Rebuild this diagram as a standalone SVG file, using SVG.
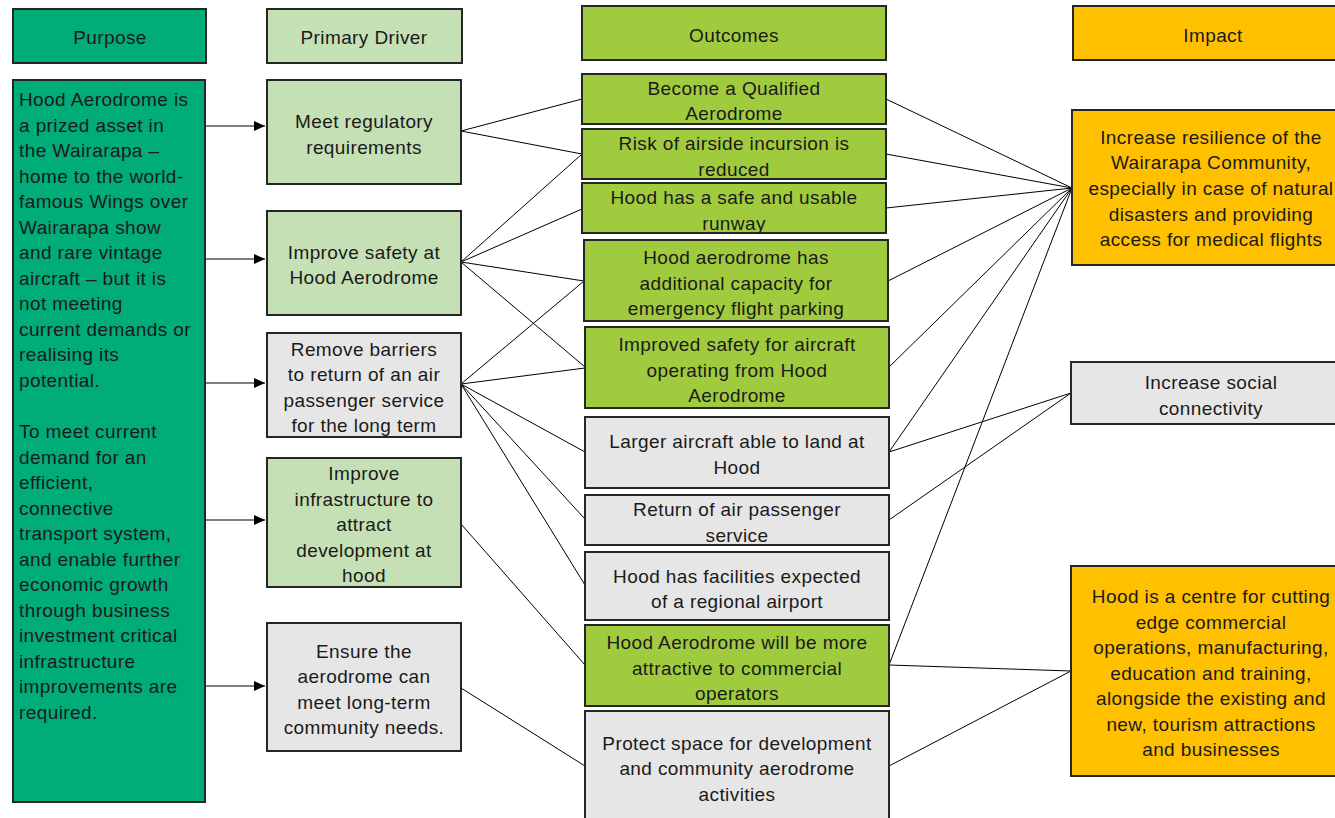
<svg xmlns="http://www.w3.org/2000/svg" width="1335" height="818" viewBox="0 0 1335 818">
<defs>
<marker id="arr" markerWidth="11" markerHeight="10" refX="11" refY="5" orient="auto" markerUnits="userSpaceOnUse">
<path d="M0,0 L11,5 L0,10 Z" fill="#000"/>
</marker>
<style>
.box{stroke:#262626;stroke-width:2}
.pu{fill:#00AC77}
.pd{fill:#C5E0B4}
.oc{fill:#A1CB3F}
.gr{fill:#E7E6E6}
.im{fill:#FFC000}
text{font-family:"Liberation Sans",Arial,sans-serif;font-size:19px;letter-spacing:0.4px;fill:#1a1a1a}
.c{text-anchor:middle}
.ln{stroke:#000;stroke-width:1;fill:none}
</style>
</defs>
<rect width="1335" height="818" fill="#fff"/>

<g id="connectors">
<line class="ln" x1="205" y1="126" x2="265" y2="126" marker-end="url(#arr)"/>
<line class="ln" x1="205" y1="259" x2="265" y2="259" marker-end="url(#arr)"/>
<line class="ln" x1="205" y1="383" x2="265" y2="383" marker-end="url(#arr)"/>
<line class="ln" x1="205" y1="520" x2="265" y2="520" marker-end="url(#arr)"/>
<line class="ln" x1="205" y1="686" x2="265" y2="686" marker-end="url(#arr)"/>
<path class="ln" d="M461,131 L582,99 M461,131 L582,154"/>
<path class="ln" d="M461,262 L582,154 M461,262 L582,209 M461,262 L584,281 M461,262 L585,367"/>
<path class="ln" d="M461,384 L584,281 M461,384 L585,368 M461,384 L585,452 M461,384 L585,519 M461,384 L585,585"/>
<path class="ln" d="M461,524 L585,665"/>
<path class="ln" d="M461,688 L585,766"/>
<path class="ln" d="M886,99 L1072,188 M886,154 L1072,188 M886,208 L1072,188 M888,281 L1072,188 M889,367 L1072,188 M889,452 L1072,188 M889,665 L1072,188"/>
<path class="ln" d="M889,452 L1071,393 M889,520 L1071,393"/>
<path class="ln" d="M889,665 L1071,671 M889,766 L1071,671"/>
</g>

<g id="h-purpose"><rect class="box pu" x="13" y="9" width="193" height="54"/><text class="c" x="110" y="44">Purpose</text></g>
<g id="h-driver"><rect class="box pd" x="267" y="9" width="195" height="54"/><text class="c" x="364" y="44">Primary Driver</text></g>
<g id="h-outcomes"><rect class="box oc" x="582" y="6" width="304" height="54"/><text class="c" x="734" y="42">Outcomes</text></g>
<g id="h-impact"><rect class="box im" x="1073" y="6" width="270" height="54"/><text class="c" x="1213" y="42">Impact</text></g>

<g id="purpose"><rect class="box pu" x="13" y="80" width="192" height="722"/>
<text x="19" y="106">Hood Aerodrome is</text>
<text x="19" y="132">a prized asset in</text>
<text x="19" y="157">the Wairarapa –</text>
<text x="19" y="183">home to the world-</text>
<text x="19" y="208">famous Wings over</text>
<text x="19" y="234">Wairarapa show</text>
<text x="19" y="259">and rare vintage</text>
<text x="19" y="285">aircraft – but it is</text>
<text x="19" y="310">not meeting</text>
<text x="19" y="336">current demands or</text>
<text x="19" y="361">realising its</text>
<text x="19" y="387">potential.</text>
<text x="19" y="438">To meet current</text>
<text x="19" y="464">demand for an</text>
<text x="19" y="489">efficient,</text>
<text x="19" y="515">connective</text>
<text x="19" y="540">transport system,</text>
<text x="19" y="566">and enable further</text>
<text x="19" y="591">economic growth</text>
<text x="19" y="617">through business</text>
<text x="19" y="642">investment critical</text>
<text x="19" y="668">infrastructure</text>
<text x="19" y="693">improvements are</text>
<text x="19" y="719">required.</text>
</g>

<g id="pd1"><rect class="box pd" x="267" y="80" width="194" height="104"/>
<text class="c" x="364" y="128">Meet regulatory</text><text class="c" x="364" y="154">requirements</text></g>
<g id="pd2"><rect class="box pd" x="267" y="211" width="194" height="104"/>
<text class="c" x="364" y="259">Improve safety at</text><text class="c" x="364" y="284">Hood Aerodrome</text></g>
<g id="pd3"><rect class="box gr" x="267" y="333" width="194" height="104"/>
<text class="c" x="364" y="356">Remove barriers</text><text class="c" x="364" y="381">to return of an air</text><text class="c" x="364" y="407">passenger service</text><text class="c" x="364" y="432">for the long term</text></g>
<g id="pd4"><rect class="box pd" x="267" y="458" width="194" height="129"/>
<text class="c" x="364" y="480">Improve</text><text class="c" x="364" y="506">infrastructure to</text><text class="c" x="364" y="531">attract</text><text class="c" x="364" y="557">development at</text><text class="c" x="364" y="582">hood</text></g>
<g id="pd5"><rect class="box gr" x="267" y="623" width="194" height="128"/>
<text class="c" x="364" y="658">Ensure the</text><text class="c" x="364" y="683">aerodrome can</text><text class="c" x="364" y="709">meet long-term</text><text class="c" x="364" y="734">community needs.</text></g>

<g id="o1"><rect class="box oc" x="582" y="74" width="304" height="50"/>
<text class="c" x="734" y="95">Become a Qualified</text><text class="c" x="734" y="120">Aerodrome</text></g>
<g id="o2"><rect class="box oc" x="582" y="129" width="304" height="50"/>
<text class="c" x="734" y="150">Risk of airside incursion is</text><text class="c" x="734" y="176">reduced</text></g>
<g id="o3"><rect class="box oc" x="582" y="183" width="304" height="50"/>
<text class="c" x="734" y="204">Hood has a safe and usable</text><text class="c" x="734" y="230">runway</text></g>
<g id="o4"><rect class="box oc" x="584" y="240" width="304" height="81"/>
<text class="c" x="736" y="264">Hood aerodrome has</text><text class="c" x="736" y="290">additional capacity for</text><text class="c" x="736" y="315">emergency flight parking</text></g>
<g id="o5"><rect class="box oc" x="585" y="327" width="304" height="81"/>
<text class="c" x="737" y="351">Improved safety for aircraft</text><text class="c" x="737" y="377">operating from Hood</text><text class="c" x="737" y="402">Aerodrome</text></g>
<g id="o6"><rect class="box gr" x="585" y="417" width="304" height="71"/>
<text class="c" x="737" y="448">Larger aircraft able to land at</text><text class="c" x="737" y="474">Hood</text></g>
<g id="o7"><rect class="box gr" x="585" y="495" width="304" height="50"/>
<text class="c" x="737" y="516">Return of air passenger</text><text class="c" x="737" y="542">service</text></g>
<g id="o8"><rect class="box gr" x="585" y="552" width="304" height="68"/>
<text class="c" x="737" y="583">Hood has facilities expected</text><text class="c" x="737" y="608">of a regional airport</text></g>
<g id="o9"><rect class="box oc" x="585" y="625" width="304" height="81"/>
<text class="c" x="737" y="649">Hood Aerodrome will be more</text><text class="c" x="737" y="675">attractive to commercial</text><text class="c" x="737" y="700">operators</text></g>
<g id="o10"><rect class="box gr" x="585" y="711" width="304" height="120"/>
<text class="c" x="737" y="750">Protect space for development</text><text class="c" x="737" y="775">and community aerodrome</text><text class="c" x="737" y="801">activities</text></g>

<g id="i1"><rect class="box im" x="1072" y="110" width="280" height="155"/>
<text class="c" x="1211" y="144">Increase resilience of the</text><text class="c" x="1211" y="169">Wairarapa Community,</text><text class="c" x="1211" y="195">especially in case of natural</text><text class="c" x="1211" y="221">disasters and providing</text><text class="c" x="1211" y="246">access for medical flights</text></g>
<g id="i2"><rect class="box gr" x="1071" y="362" width="280" height="62"/>
<text class="c" x="1211" y="389">Increase social</text><text class="c" x="1211" y="415">connectivity</text></g>
<g id="i3"><rect class="box im" x="1071" y="566" width="280" height="210"/>
<text class="c" x="1211" y="603">Hood is a centre for cutting</text><text class="c" x="1211" y="629">edge commercial</text><text class="c" x="1211" y="654">operations, manufacturing,</text><text class="c" x="1211" y="680">education and training,</text><text class="c" x="1211" y="705">alongside the existing and</text><text class="c" x="1211" y="731">new, tourism attractions</text><text class="c" x="1211" y="756">and businesses</text></g>
</svg>
